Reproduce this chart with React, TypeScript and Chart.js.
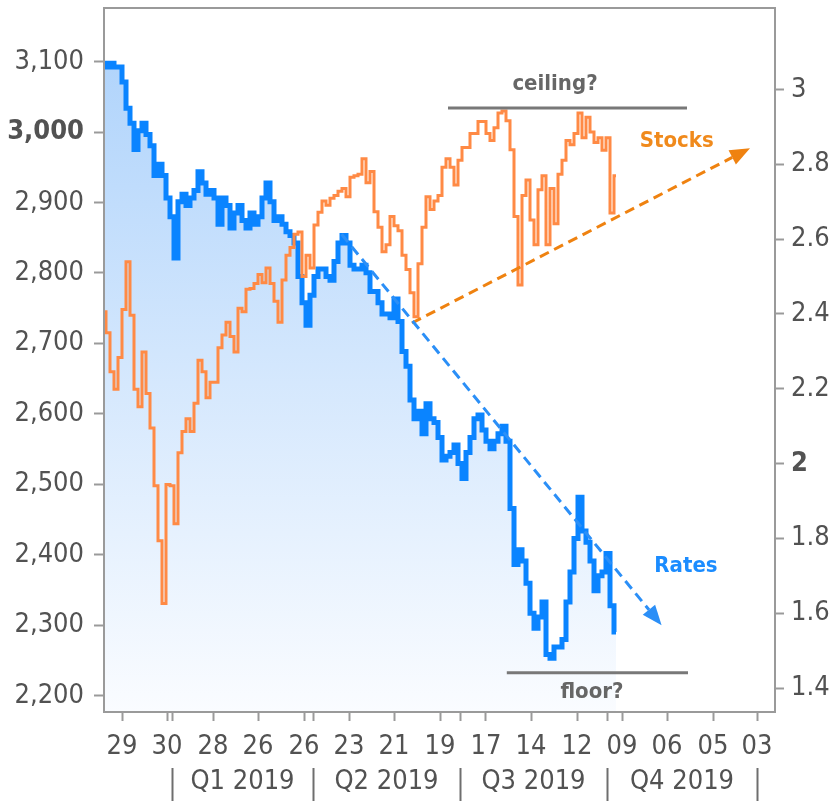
import React, { useEffect, useRef } from 'react';
import { Chart, registerables } from 'chart.js';

Chart.register(...registerables);

// ---------- data ----------
const stocks = [
  2745, 2715, 2660, 2635, 2680, 2748, 2816, 2740, 2635, 2610,
  2688, 2629, 2580, 2498, 2420, 2331, 2500, 2498, 2444, 2545,
  2575, 2593, 2575, 2615, 2676, 2660, 2623, 2645, 2645, 2694,
  2712, 2730, 2710, 2688, 2750, 2745, 2777, 2778, 2785, 2798,
  2786, 2807, 2785, 2760, 2730, 2790, 2825, 2836, 2855, 2858,
  2795, 2825, 2807, 2868, 2886, 2902, 2896, 2906, 2910, 2916,
  2920, 2908, 2936, 2938, 2940, 2962, 2928, 2944, 2887, 2865,
  2830, 2840, 2880, 2867, 2860, 2825, 2805, 2772, 2738, 2813,
  2865, 2908, 2890, 2902, 2910, 2950, 2962, 2950, 2925, 2960,
  2978, 2978, 2998, 2998, 3015, 3015, 2998, 2988, 3006, 3027,
  3030, 3016, 2975, 2880, 2783, 2910, 2932, 2875, 2840, 2918,
  2938, 2840, 2920, 2870, 2940, 2960, 2988, 2982, 2998, 3027,
  2992, 3021, 3000, 2985, 2992, 2974, 2992, 2885, 2938,
];

const rates = [
  3.07, 3.06, 3.07, 3.06, 3.06, 3.02, 2.95, 2.91, 2.84, 2.89,
  2.91, 2.88, 2.85, 2.77, 2.80, 2.77, 2.71, 2.66, 2.55, 2.70,
  2.72, 2.69, 2.71, 2.73, 2.78, 2.75, 2.72, 2.73, 2.71, 2.64,
  2.71, 2.69, 2.63, 2.67, 2.69, 2.65, 2.63, 2.67, 2.64, 2.66,
  2.71, 2.75, 2.70, 2.65, 2.66, 2.64, 2.62, 2.61, 2.59, 2.50,
  2.43, 2.37, 2.45, 2.50, 2.52, 2.52, 2.50, 2.49, 2.54, 2.59,
  2.61, 2.59, 2.53, 2.52, 2.52, 2.53, 2.51, 2.46, 2.46, 2.43,
  2.40, 2.40, 2.39, 2.44, 2.38, 2.30, 2.26, 2.17, 2.12, 2.14,
  2.08, 2.16, 2.12, 2.11, 2.07, 2.01, 2.02, 2.03, 2.05, 2.00,
  1.96, 2.03, 2.07, 2.12, 2.13, 2.09, 2.06, 2.04, 2.06, 2.08,
  2.10, 2.06, 1.88, 1.73, 1.77, 1.74, 1.68, 1.60, 1.56, 1.59,
  1.63, 1.49, 1.48, 1.51, 1.51, 1.53, 1.63, 1.71, 1.80, 1.91,
  1.82, 1.79, 1.74, 1.66, 1.70, 1.71, 1.76, 1.62, 1.55,
];

const stockTicks = [2200, 2300, 2400, 2500, 2600, 2700, 2800, 2900, 3000, 3100];
const stockBold = 3000;
const stockRange = [2177, 3176];

const rateTicks = [1.4, 1.6, 1.8, 2, 2.2, 2.4, 2.6, 2.8, 3];
const rateTickLabels = ['1.4', '1.6', '1.8', '2', '2.2', '2.4', '2.6', '2.8', '3'];
const rateBold = 2;
const rateRange = [1.336, 3.218];

const xRange = [0, 167.75];
const dayTickPos = [4.5, 15.75, 27.25, 38.5, 50, 61.25, 72.5, 84, 95.5, 106.75, 118.25, 129.5, 140.75, 152.25, 163.25];
const dayTickLabels = ['29', '30', '28', '26', '26', '23', '21', '19', '17', '14', '12', '09', '06', '05', '03'];
const quarterEdges = [17, 52.25, 89, 125.75, 163.25];
const quarterLabels = ['Q1 2019', 'Q2 2019', 'Q3 2019', 'Q4 2019'];

// annotations (data coordinates)
const stocksTrend = [[77, 2729], [161.5, 2977]];
const ratesTrend = [[59.4, 2.613], [139.4, 1.568]];
const ceilingLine = [86, 145.75, 3034];
const floorLine = [100.7, 146, 1.441];
const ceilingText = ['ceiling?', 112.75, 3068];
const floorText = ['floor?', 122, 1.389];
const stocksText = ['Stocks', 143.2, 2987];
const ratesText = ['Rates', 145.5, 1.726];

// ---------- style ----------
const FAMILY = "'DejaVu Sans Condensed', 'DejaVu Sans', sans-serif";
const TEXT = '#525252';
const FRAME = '#9a9a9a';
const BLUE = '#0a84ff';
const ORANGE = '#ff8a45';
const ORANGE_DASH = '#ef8210';
const BLUE_DASH = '#2b8ff7';
const NOTE = '#666666';

function drawArrow(ctx: CanvasRenderingContext2D, x1: number, y1: number, x2: number, y2: number, color: string) {
  const ang = Math.atan2(y2 - y1, x2 - x1);
  const head = 20;
  const half = 8;
  const bx = x2 - head * Math.cos(ang);
  const by = y2 - head * Math.sin(ang);
  ctx.save();
  ctx.strokeStyle = color;
  ctx.fillStyle = color;
  ctx.lineWidth = 3;
  ctx.setLineDash([10, 6]);
  ctx.beginPath();
  ctx.moveTo(x1, y1);
  ctx.lineTo(bx, by);
  ctx.stroke();
  ctx.setLineDash([]);
  ctx.beginPath();
  ctx.moveTo(x2, y2);
  ctx.lineTo(bx - half * Math.sin(ang), by + half * Math.cos(ang));
  ctx.lineTo(bx + half * Math.sin(ang), by - half * Math.cos(ang));
  ctx.closePath();
  ctx.fill();
  ctx.restore();
}

const overlayPlugin = {
  id: 'overlay',
  afterDatasetsDraw(chart: any) {
    const { ctx, scales } = chart;
    const x = scales.x;
    const yl = scales.y;
    const yr = scales.y2;
    ctx.save();
    ctx.strokeStyle = '#787878';
    ctx.lineWidth = 3;
    ctx.beginPath();
    ctx.moveTo(x.getPixelForValue(ceilingLine[0]), yl.getPixelForValue(ceilingLine[2]));
    ctx.lineTo(x.getPixelForValue(ceilingLine[1]), yl.getPixelForValue(ceilingLine[2]));
    ctx.stroke();
    ctx.beginPath();
    ctx.moveTo(x.getPixelForValue(floorLine[0]), yr.getPixelForValue(floorLine[2]));
    ctx.lineTo(x.getPixelForValue(floorLine[1]), yr.getPixelForValue(floorLine[2]));
    ctx.stroke();

    drawArrow(
      ctx,
      x.getPixelForValue(stocksTrend[0][0]), yl.getPixelForValue(stocksTrend[0][1]),
      x.getPixelForValue(stocksTrend[1][0]), yl.getPixelForValue(stocksTrend[1][1]),
      ORANGE_DASH,
    );
    drawArrow(
      ctx,
      x.getPixelForValue(ratesTrend[0][0]), yr.getPixelForValue(ratesTrend[0][1]),
      x.getPixelForValue(ratesTrend[1][0]), yr.getPixelForValue(ratesTrend[1][1]),
      BLUE_DASH,
    );

    ctx.font = `bold 22px ${FAMILY}`;
    ctx.textAlign = 'center';
    ctx.textBaseline = 'middle';
    ctx.fillStyle = NOTE;
    ctx.fillText(ceilingText[0] as string, x.getPixelForValue(ceilingText[1] as number), yl.getPixelForValue(ceilingText[2] as number));
    ctx.fillText(floorText[0] as string, x.getPixelForValue(floorText[1] as number), yr.getPixelForValue(floorText[2] as number));
    ctx.fillStyle = '#f08a1c';
    ctx.fillText(stocksText[0] as string, x.getPixelForValue(stocksText[1] as number), yl.getPixelForValue(stocksText[2] as number));
    ctx.fillStyle = '#1b8cff';
    ctx.fillText(ratesText[0] as string, x.getPixelForValue(ratesText[1] as number), yr.getPixelForValue(ratesText[2] as number));
    ctx.restore();
  },
  afterDraw(chart: any) {
    const { ctx, chartArea, scales } = chart;
    const x = scales.x;
    ctx.save();
    ctx.strokeStyle = FRAME;
    ctx.lineWidth = 2;
    ctx.strokeRect(chartArea.left, chartArea.top, chartArea.right - chartArea.left, chartArea.bottom - chartArea.top);
    const rowTop = chartArea.bottom + 56;
    const rowBottom = chartArea.bottom + 89;
    const rowMid = chartArea.bottom + 70;
    ctx.strokeStyle = '#6e6e6e';
    ctx.lineWidth = 2;
    quarterEdges.forEach((e) => {
      const px = Math.round(x.getPixelForValue(e)) + 0.5;
      ctx.beginPath();
      ctx.moveTo(px, rowTop);
      ctx.lineTo(px, rowBottom);
      ctx.stroke();
    });
    ctx.fillStyle = TEXT;
    ctx.font = `27px ${FAMILY}`;
    ctx.textAlign = 'center';
    ctx.textBaseline = 'middle';
    quarterLabels.forEach((q, i) => {
      const mid = (x.getPixelForValue(quarterEdges[i]) + x.getPixelForValue(quarterEdges[i + 1])) / 2;
      ctx.fillText(q, mid, rowMid);
    });
    ctx.restore();
  },
};

export default function App() {
  const canvasRef = useRef<HTMLCanvasElement | null>(null);

  useEffect(() => {
    const canvas = canvasRef.current;
    if (!canvas) return;

    const xTickValues = Array.from(new Set([...dayTickPos, ...quarterEdges])).sort((a, b) => a - b);

    const chart = new Chart(canvas, {
      type: 'line',
      data: {
        datasets: [
          {
            label: 'Stocks',
            data: stocks.map((v, i) => ({ x: i, y: v })),
            yAxisID: 'y',
            borderColor: ORANGE,
            borderWidth: 3,
            pointRadius: 0,
            stepped: 'middle',
            fill: false,
            order: 0,
          },
          {
            label: 'Rates',
            data: rates.map((v, i) => ({ x: i, y: v })),
            yAxisID: 'y2',
            borderColor: BLUE,
            borderWidth: 5,
            pointRadius: 0,
            stepped: 'middle',
            fill: 'start',
            backgroundColor: (c: any) => {
              const area = c.chart.chartArea;
              if (!area) return 'rgba(170,210,250,0.6)';
              const g = c.chart.ctx.createLinearGradient(0, area.top, 0, area.bottom);
              g.addColorStop(0, '#abd1fb');
              g.addColorStop(1, '#fafcff');
              return g;
            },
            order: 1,
          },
        ],
      },
      options: {
        animation: false,
        responsive: true,
        maintainAspectRatio: false,
        layout: { padding: { top: 8, left: 0, right: 0, bottom: 0 } },
        plugins: {
          legend: { display: false },
          tooltip: { enabled: false },
        },
        scales: {
          x: {
            type: 'linear',
            min: xRange[0],
            max: xRange[1],
            border: { display: false },
            grid: {
              drawOnChartArea: false,
              drawTicks: true,
              tickLength: 9,
              tickColor: FRAME,
              tickWidth: 2,
            },
            ticks: {
              autoSkip: false,
              maxRotation: 0,
              padding: 10,
              color: TEXT,
              font: { size: 27, family: FAMILY },
              callback: (value: any) => {
                const i = dayTickPos.indexOf(Number(value));
                return i >= 0 ? dayTickLabels[i] : '';
              },
            },
            afterBuildTicks: (scale: any) => {
              scale.ticks = xTickValues.map((v) => ({ value: v }));
            },
            afterFit: (scale: any) => {
              scale.height = 90;
              scale.paddingLeft = 0;
              scale.paddingRight = 0;
            },
          },
          y: {
            type: 'linear',
            position: 'left',
            min: stockRange[0],
            max: stockRange[1],
            border: { display: false },
            grid: {
              drawOnChartArea: false,
              drawTicks: true,
              tickLength: 10,
              tickColor: FRAME,
              tickWidth: 2,
            },
            ticks: {
              padding: 10,
              color: TEXT,
              font: (c: any) => ({
                size: 27,
                family: FAMILY,
                weight: c.tick && c.tick.value === stockBold ? 'bold' : 'normal',
              }),
              callback: (value: any) => Number(value).toLocaleString('en-US'),
            },
            afterBuildTicks: (scale: any) => {
              scale.ticks = stockTicks.map((v) => ({ value: v }));
            },
            afterFit: (scale: any) => {
              scale.width = 104;
              scale.paddingTop = 0;
              scale.paddingBottom = 0;
            },
          },
          y2: {
            type: 'linear',
            position: 'right',
            min: rateRange[0],
            max: rateRange[1],
            border: { display: false },
            grid: {
              drawOnChartArea: false,
              drawTicks: true,
              tickLength: 9,
              tickColor: FRAME,
              tickWidth: 2,
            },
            ticks: {
              padding: 7,
              color: TEXT,
              font: (c: any) => ({
                size: 27,
                family: FAMILY,
                weight: c.tick && c.tick.value === rateBold ? 'bold' : 'normal',
              }),
              callback: (value: any) => {
                const i = rateTicks.findIndex((t) => Math.abs(t - Number(value)) < 1e-9);
                return i >= 0 ? rateTickLabels[i] : '';
              },
            },
            afterBuildTicks: (scale: any) => {
              scale.ticks = rateTicks.map((v) => ({ value: v }));
            },
            afterFit: (scale: any) => {
              scale.width = 63;
              scale.paddingTop = 0;
              scale.paddingBottom = 0;
            },
          },
        },
      },
      plugins: [overlayPlugin],
    });

    return () => chart.destroy();
  }, []);

  return (
    <div style={{ position: 'fixed', left: 0, top: 0, width: 838, height: 802, background: '#ffffff' }}>
      <canvas ref={canvasRef} />
    </div>
  );
}
